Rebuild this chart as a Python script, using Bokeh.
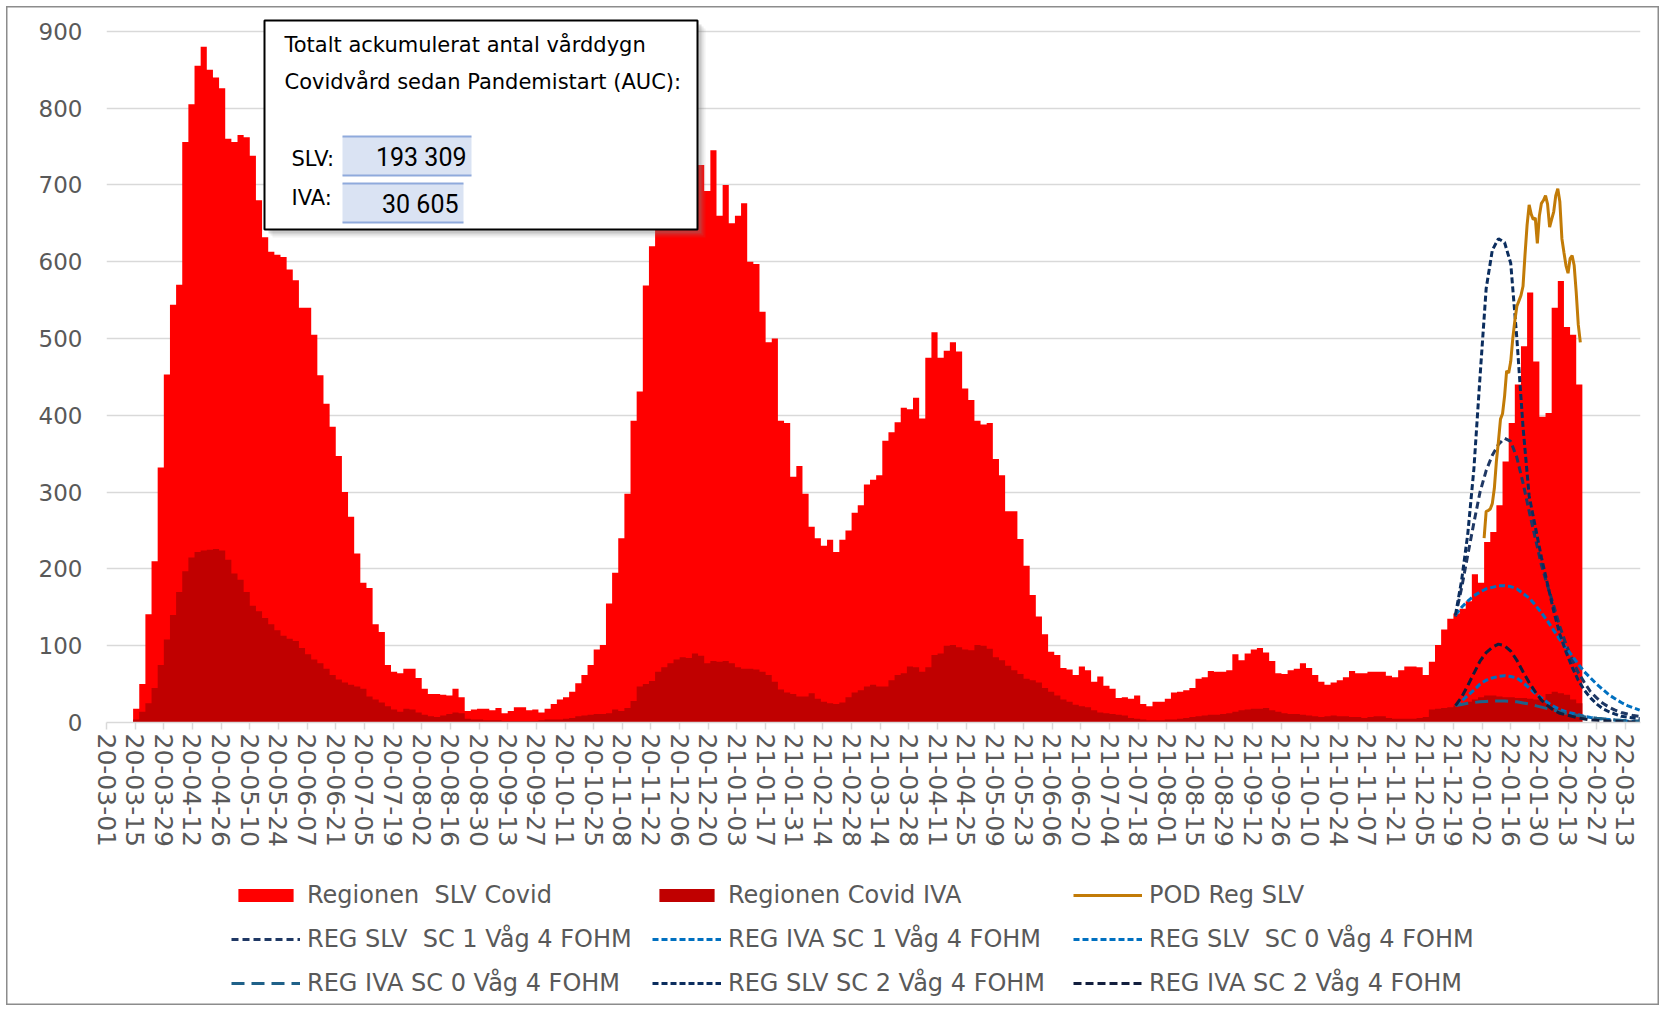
import numpy as np
import pandas as pd
from bokeh.plotting import figure
from bokeh.layouts import column
from bokeh.models import Range1d, FixedTicker, DatetimeTickFormatter, Legend, LegendItem
from bokeh.core.properties import value
from bokeh.embed import file_html
from bokeh.resources import INLINE

# ---------------- data ----------------
AXIS_START = "2020-03-01"
AXIS_DAYS = 749.4
Y_MAX = 924.5
TICK_STEP_DAYS = 14
N_TICKS = 54
Y_TICKS = list(range(0, 1000, 100))

SLV_START = "2020-03-14"
BAR_STEP_DAYS = 3
slv_covid = [
    18, 50, 141, 210, 332, 453, 544, 570, 756, 805, 855, 880, 850, 840, 826, 760, 756, 765, 762, 738,
    680, 632, 613, 609, 606, 590, 576, 540, 540, 505, 452, 415, 385, 347, 300, 268, 220, 182,
    175, 128, 118, 75, 66, 64, 70, 70, 58, 44, 37, 37, 36, 35, 44, 33, 15, 17, 18, 18, 16, 19,
    12, 15, 20, 20, 16, 17, 13, 18, 24, 30, 33, 40, 51, 62, 75, 95, 101, 155, 195,
    240, 298, 393, 431, 569, 620, 650, 670, 690, 700, 710, 715, 720, 726, 692, 745, 660, 700, 650, 660,
    676, 600, 597, 535, 495, 500, 393, 390, 320, 334, 298, 255, 240, 230, 238, 222, 238, 250, 273, 283,
    310, 316,
    322, 367, 378, 391, 410, 408, 423, 396, 475, 508, 475, 484, 495, 483, 435, 420, 393, 388, 390, 343,
    322, 275, 275, 239, 204, 166, 138, 115, 92, 88, 71, 69, 62, 73, 68, 53, 60, 48, 44, 32, 33,
    31, 35, 24, 21, 27, 27, 31, 39, 40, 42, 45, 57, 59, 67, 66, 66, 68, 89, 81, 90, 95, 97, 91, 80,
    64, 63, 68, 70, 77, 71, 62, 53, 49, 52, 55, 59, 67, 64, 64, 66, 66, 66,
    61, 59, 68, 73, 73, 72, 62, 79, 101, 121, 135, 142, 148, 158, 193, 182, 235, 248, 283, 340,
    390, 440, 490, 560, 470, 398, 403, 540, 575, 515, 505, 440,
]
iva_covid = [
    4, 14, 25, 45, 75, 108, 140, 170, 197, 215, 222, 224, 225, 226, 224, 212, 194, 186, 170, 152,
    145, 136, 128, 120, 113, 109, 106, 97, 89, 82, 77, 70, 62, 56, 52, 49, 47, 44,
    34, 30, 26, 21, 17, 14, 18, 17, 13, 10, 8, 7, 9, 11, 13, 12, 5, 4, 4, 3, 3, 3,
    2, 2, 2, 2, 2, 2, 3, 4, 4, 4, 5, 6, 8, 9, 10, 11, 11, 12, 17,
    15, 19, 28, 47, 50, 54, 66, 72, 77, 82, 85, 84, 90, 87, 77, 80, 79, 80, 77, 72,
    70, 70, 69, 66, 62, 53, 43, 39, 37, 34, 34, 38, 31, 27, 25, 24, 26, 33, 39, 42, 47, 49,
    47, 47, 55, 62, 64, 73, 72, 66, 72, 88, 90, 100, 101, 98, 95, 94, 101, 100, 96, 85,
    81, 74, 68, 63, 57, 55, 52, 45, 40, 35, 30, 27, 23, 21, 20, 16, 13, 12, 11, 10, 9,
    6, 5, 4, 3, 3, 3, 4, 4, 5, 6, 7, 8, 9, 10, 10, 11, 12, 14, 16, 17, 18, 18, 19, 16,
    14, 12, 11, 11, 10, 9, 8, 7, 8, 9, 8, 8, 7, 7, 6, 7, 8, 8,
    6, 5, 5, 5, 5, 6, 7, 17, 18, 19, 20, 22, 24, 27, 30, 33, 35, 35, 34, 33,
    33, 32, 32, 31, 30, 29, 37, 40, 38, 36, 30, 25,
]

FORECAST_START = "2021-12-20"
FORECAST_STEP_DAYS = 3
reg_slv_sc1 = [138, 175, 218, 260, 300, 328, 348, 362, 370, 366, 345, 312, 275, 240, 205, 178,
               152, 125, 102, 82, 65, 52, 40, 32, 25, 20, 16, 13, 11, 9, 8]
reg_iva_sc1 = [22, 28, 35, 42, 50, 55, 58, 60, 61, 60, 58, 52, 45, 38, 32, 26, 21, 17, 14, 12,
               10, 8, 6.5, 5.4, 4.5, 3.8, 3, 2.3, 1.8, 1.4, 1]
reg_slv_sc0 = [140, 150, 158, 165, 170, 174, 176, 178, 178, 177, 174, 168, 162, 153, 143, 132,
               120, 108, 97, 87, 76, 66, 58, 50, 43, 36, 31, 26, 22, 19, 16]
reg_iva_sc0 = [22, 23.5, 25, 26, 27, 27.5, 28, 28, 28, 27.5, 27, 25.5, 24, 22, 20, 18, 16, 14,
               12, 10.5, 9, 7.5, 6.5, 5.5, 4.8, 4, 3.4, 2.8, 2.4, 2, 1.8]
reg_slv_sc2 = [140, 185, 245, 330, 450, 565, 615, 630, 625, 598, 500, 385, 295, 255, 215, 180,
               145, 115, 92, 72, 55, 42, 32, 24, 18, 14, 11, 8, 7, 6, 5]
reg_iva_sc2 = [22, 33, 48, 64, 80, 91, 98, 102, 100, 93, 81, 66, 52, 40, 29, 22, 16, 12, 10, 8,
               6, 4.5, 3.4, 2.8, 2.3, 2, 1.6, 1.2, 0.9, 0.7, 0.5]

POD_START = "2022-01-03"
pod_reg_slv = [240, 275, 276, 278, 285, 305, 340, 366, 395, 402, 425, 458, 455, 470, 500, 523,
               542, 549, 556, 568, 610, 648, 674, 662, 655, 657, 624, 660, 676, 680, 686, 675,
               645, 655, 665, 686, 695, 678, 630, 612, 595, 585, 604, 608, 595, 560, 518, 495]

AUC_TITLE_1 = "Totalt ackumulerat antal vårddygn"
AUC_TITLE_2 = "Covidvård sedan Pandemistart (AUC):"
AUC_LABELS = ["SLV:", "IVA:"]
AUC_VALUES = ["193 309", "30 605"]

# ---------------- styles ----------------
FONT = "DejaVu Sans"
GREY = "#595959"
LW = 3
AREA_STYLE = {
    "Regionen  SLV Covid": dict(fill_color="#FF0000"),
    "Regionen Covid IVA": dict(fill_color="#C00000"),
}
LINE_STYLE = {
    "POD Reg SLV": dict(line_color="#C27B07", line_width=3),
    "REG SLV  SC 1 Våg 4 FOHM": dict(line_color="#1F3864", line_width=LW, line_dash="7 4"),
    "REG IVA SC 1 Våg 4 FOHM": dict(line_color="#0070C0", line_width=LW, line_dash="6 3"),
    "REG SLV  SC 0 Våg 4 FOHM": dict(line_color="#0070C0", line_width=LW, line_dash="6 3"),
    "REG IVA SC 0 Våg 4 FOHM": dict(line_color="#1F6189", line_width=LW, line_dash="13 7"),
    "REG SLV SC 2 Våg 4 FOHM": dict(line_color="#0B2D5E", line_width=LW, line_dash="6 3"),
    "REG IVA SC 2 Våg 4 FOHM": dict(line_color="#121E3D", line_width=LW, line_dash="8 4"),
}
LEGEND_ORDER = ["Regionen  SLV Covid", "Regionen Covid IVA", "POD Reg SLV",
                "REG SLV  SC 1 Våg 4 FOHM", "REG IVA SC 1 Våg 4 FOHM", "REG SLV  SC 0 Våg 4 FOHM",
                "REG IVA SC 0 Våg 4 FOHM", "REG SLV SC 2 Våg 4 FOHM", "REG IVA SC 2 Våg 4 FOHM"]

# ---------------- helpers ----------------
T0 = pd.Timestamp(AXIS_START)
FRAME_L, FRAME_B = 106.0, 722.0          # frame origin (page px)
PX_DAY = 1534.0 / AXIS_DAYS
PX_UNIT = 710.0 / Y_MAX


def px_x(px):
    return np.array([T0 + pd.Timedelta(days=(v - FRAME_L) / PX_DAY) for v in px], dtype="datetime64[ns]")


def px_y(py):
    return [(FRAME_B - v) / PX_UNIT for v in py]


def step_series(start, vals, step):
    xs = pd.date_range(start, periods=len(vals) + 1, freq=f"{step}D").values
    return xs, list(vals) + [vals[-1]]


p = figure(width=1665, height=860, x_axis_type="datetime",
           x_range=Range1d(T0, T0 + pd.Timedelta(days=AXIS_DAYS)),
           y_range=Range1d(0, Y_MAX),
           output_backend="svg", toolbar_location=None,
           min_border_left=106, min_border_right=25, min_border_top=12, min_border_bottom=138,
           background_fill_color="white", border_fill_alpha=0, outline_line_color=None)

# axes / grid
p.xgrid.visible = False
p.ygrid.grid_line_color = "#d9d9d9"
p.ygrid.grid_line_width = 1.6
p.yaxis.ticker = FixedTicker(ticks=Y_TICKS)
p.yaxis.axis_line_color = None
p.yaxis.major_tick_line_color = None
p.yaxis.minor_tick_line_color = None
p.yaxis.major_label_text_font = FONT
p.yaxis.major_label_text_font_size = "23px"
p.yaxis.major_label_text_color = GREY
p.yaxis.major_label_standoff = 18

tick_ms = [(T0 + pd.Timedelta(days=TICK_STEP_DAYS * k)).value // 10**6 for k in range(N_TICKS)]
p.xaxis.ticker = FixedTicker(ticks=tick_ms)
fmt = "%y-%m-%d"
p.xaxis.formatter = DatetimeTickFormatter(microseconds=fmt, milliseconds=fmt, seconds=fmt, minsec=fmt,
                                          minutes=fmt, hourmin=fmt, hours=fmt, days=fmt, months=fmt, years=fmt)
p.xaxis.axis_line_color = "#d9d9d9"
p.xaxis.axis_line_width = 1.6
p.xaxis.major_tick_line_color = "#d9d9d9"
p.xaxis.major_tick_line_width = 1.5
p.xaxis.major_tick_out = 7
p.xaxis.major_tick_in = 0
p.xaxis.minor_tick_line_color = None
p.xaxis.major_label_orientation = "vertical"
p.xaxis.major_label_text_font = FONT
p.xaxis.major_label_text_font_size = "25px"
p.xaxis.major_label_text_color = GREY
p.xaxis.major_label_standoff = 4

# bars
sx, sy = step_series(SLV_START, slv_covid, BAR_STEP_DAYS)
p.varea_step(x=sx, y1=np.zeros(len(sy)), y2=sy, step_mode="after", **AREA_STYLE["Regionen  SLV Covid"])
ix, iy = step_series(SLV_START, iva_covid, BAR_STEP_DAYS)
p.varea_step(x=ix, y1=np.zeros(len(iy)), y2=iy, step_mode="after", **AREA_STYLE["Regionen Covid IVA"])

# forecast curves
fx = pd.date_range(FORECAST_START, periods=len(reg_slv_sc1), freq=f"{FORECAST_STEP_DAYS}D").values
p.line(fx, reg_slv_sc1, **LINE_STYLE["REG SLV  SC 1 Våg 4 FOHM"])
p.line(fx, reg_iva_sc1, **LINE_STYLE["REG IVA SC 1 Våg 4 FOHM"])
p.line(fx, reg_slv_sc0, **LINE_STYLE["REG SLV  SC 0 Våg 4 FOHM"])
p.line(fx, reg_iva_sc0, **LINE_STYLE["REG IVA SC 0 Våg 4 FOHM"])
p.line(fx, reg_slv_sc2, **LINE_STYLE["REG SLV SC 2 Våg 4 FOHM"])
p.line(fx, reg_iva_sc2, **LINE_STYLE["REG IVA SC 2 Våg 4 FOHM"])

# POD line
px_pod = pd.date_range(POD_START, periods=len(pod_reg_slv), freq="D").values
p.line(px_pod, pod_reg_slv, **LINE_STYLE["POD Reg SLV"])

# ---------------- AUC text box ----------------
for off, alpha in ((8, 0.10), (6, 0.15), (4, 0.25)):
    p.quad(left=px_x([264 + off]), right=px_x([697 + off]), top=px_y([20 + off]), bottom=px_y([229 + off]),
           fill_color="#808080", fill_alpha=alpha, line_color=None)
p.quad(left=px_x([264]), right=px_x([697]), top=px_y([20]), bottom=px_y([229]),
       fill_color="white", line_color="black", line_width=2)
p.quad(left=px_x([342, 342]), right=px_x([471, 463]), top=px_y([136, 183]), bottom=px_y([175, 222]),
       fill_color="#DAE3F3", line_color=None)
p.segment(x0=px_x([342, 342, 342, 342]), x1=px_x([471, 471, 463, 463]),
          y0=px_y([136, 175, 183, 222]), y1=px_y([136, 175, 183, 222]),
          line_color="#8FAADC", line_width=2.2)
p.text(x=px_x([284, 284]), y=px_y([44, 81]), text=[AUC_TITLE_1, AUC_TITLE_2],
       text_font=value(FONT), text_font_size="21px", text_color="black",
       text_align="left", text_baseline="middle")
p.text(x=px_x([291, 291]), y=px_y([158, 197]), text=AUC_LABELS,
       text_font=value(FONT), text_font_size="21px", text_color="black",
       text_align="left", text_baseline="middle")
p.text(x=px_x([466, 458]), y=px_y([157, 204]), text=AUC_VALUES,
       text_font=value("Roboto"), text_font_size="25px", text_color="black",
       text_align="right", text_baseline="middle")

# ---------------- legend (separate strip below) ----------------
lg = figure(width=1665, height=151, x_range=Range1d(0, 1), y_range=Range1d(0, 1),
            output_backend="svg", toolbar_location=None,
            min_border_left=0, min_border_right=0, min_border_top=0, min_border_bottom=0,
            background_fill_alpha=0, border_fill_alpha=0, outline_line_color=None)
lg.xaxis.visible = False
lg.yaxis.visible = False
lg.xgrid.visible = False
lg.ygrid.visible = False
OFF = [5.0, 6.0]   # swatch-only renderers kept outside the visible range
swatch = {}
for name, st in AREA_STYLE.items():
    swatch[name] = lg.quad(left=[OFF[0]], right=[OFF[1]], bottom=[OFF[0]], top=[OFF[1]],
                           line_color=None, **st)
for name, st in LINE_STYLE.items():
    swatch[name] = lg.line(x=OFF, y=OFF, **st)

NCOLS = 3
nrows = len(LEGEND_ORDER) // NCOLS
col_major = [LEGEND_ORDER[r * NCOLS + c] for c in range(NCOLS) for r in range(nrows)]
legend = Legend(items=[LegendItem(label=n, renderers=[swatch[n]]) for n in col_major],
                ncols=NCOLS, location=(125, 6),
                label_text_font=FONT, label_text_font_size="24px", label_text_color=GREY,
                glyph_width=69, glyph_height=16, label_standoff=7, label_width=345,
                label_height=44, spacing=0, padding=0, margin=0,
                border_line_color=None, background_fill_alpha=0)
lg.add_layout(legend)

layout = column(p, lg, styles={"box-shadow": "inset 0 0 0 6px #ffffff, inset 0 0 0 7.5px #8c8c8c"})
open("out.html", "w").write(file_html(layout, INLINE))
